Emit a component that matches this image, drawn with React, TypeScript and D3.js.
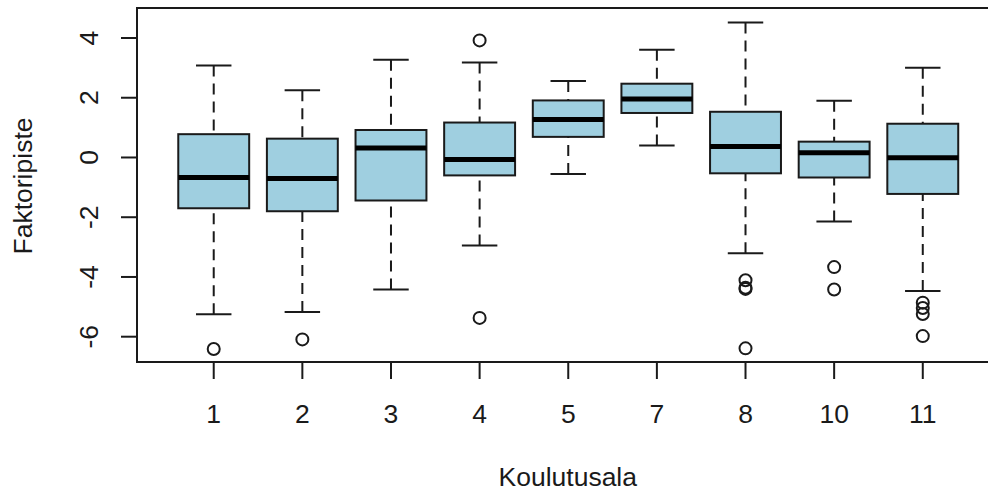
import React, { useRef, useEffect } from 'react';
import * as d3 from 'd3';

// values (R boxplot)
const categories = ['1', '2', '3', '4', '5', '7', '8', '10', '11'];
const lowerWhisker = [-5.25, -5.17, -4.42, -2.95, -0.55, 0.4, -3.21, -2.14, -4.47];
const q1 = [-1.7, -1.8, -1.44, -0.6, 0.69, 1.49, -0.53, -0.67, -1.22];
const median = [-0.67, -0.7, 0.32, -0.07, 1.27, 1.96, 0.37, 0.16, -0.01];
const q3 = [0.78, 0.63, 0.92, 1.17, 1.91, 2.47, 1.53, 0.53, 1.13];
const upperWhisker = [3.08, 2.25, 3.27, 3.18, 2.56, 3.61, 4.52, 1.9, 3.0];
const outliers = [
    [-6.41],
    [-6.09],
    [],
    [3.92, -5.37],
    [],
    [],
    [-4.11, -4.36, -4.4, -6.39],
    [-3.67, -4.42],
    [-4.86, -5.04, -5.24, -5.98],
];
const yTicks = [-6, -4, -2, 0, 2, 4];

export default function App() {
    const wrapper_ref = useRef(null);

    useEffect(() => {
        const width = 988;
        const height = 493;
        const plot = { left: 137, right: 999, top: 8, bottom: 362 };
        const font = '"Liberation Sans", Arial, sans-serif';
        const fontSize = 26.5;
        const ink = '#1a1a1a';

        const wrapper_element = d3.select(wrapper_ref.current);
        wrapper_element.selectAll('*').remove();

        const svg = wrapper_element
            .append('svg')
            .attr('width', width)
            .attr('height', height)
            .style('position', 'absolute')
            .style('left', 0)
            .style('top', 0)
            .style('background', '#fff');

        // R pads xlim c(0.5, n + 0.5) by 4% on each side
        const n = categories.length;
        const pad = n * 0.04;
        const x = d3.scaleLinear([0.5 - pad, n + 0.5 + pad], [plot.left + 0.5, plot.right]);
        const y = d3.scaleLinear([-6, 4], [336.7, 38]);

        const boxHalf = (x(1) - x(0)) * 0.4;
        const capHalf = boxHalf * 0.5;

        const data = categories.map((c, i) => ({
            c,
            pos: i + 1,
            lo: lowerWhisker[i],
            q1: q1[i],
            med: median[i],
            q3: q3[i],
            hi: upperWhisker[i],
            out: outliers[i],
        }));

        const g = svg.append('g');
        const box = g.selectAll('g.box').data(data).join('g').attr('class', 'box');

        // dashed whiskers, drawn from the staple towards the box
        ['hi', 'lo'].forEach((k) => {
            box.append('line')
                .attr('x1', (d) => x(d.pos))
                .attr('x2', (d) => x(d.pos))
                .attr('y1', (d) => y(d[k]))
                .attr('y2', (d) => y(k === 'hi' ? d.q3 : d.q1))
                .attr('stroke', ink)
                .attr('stroke-width', 2)
                .attr('stroke-dasharray', '11 7');
        });

        // staples
        ['hi', 'lo'].forEach((k) => {
            box.append('line')
                .attr('x1', (d) => x(d.pos) - capHalf)
                .attr('x2', (d) => x(d.pos) + capHalf)
                .attr('y1', (d) => y(d[k]))
                .attr('y2', (d) => y(d[k]))
                .attr('stroke', ink)
                .attr('stroke-width', 2);
        });

        box.append('rect')
            .attr('x', (d) => x(d.pos) - boxHalf)
            .attr('width', boxHalf * 2)
            .attr('y', (d) => y(d.q3))
            .attr('height', (d) => y(d.q1) - y(d.q3))
            .attr('fill', '#9fcfe0')
            .attr('stroke', ink)
            .attr('stroke-width', 2);

        box.append('line')
            .attr('x1', (d) => x(d.pos) - boxHalf)
            .attr('x2', (d) => x(d.pos) + boxHalf)
            .attr('y1', (d) => y(d.med))
            .attr('y2', (d) => y(d.med))
            .attr('stroke', '#000')
            .attr('stroke-width', 5);

        box.selectAll('circle')
            .data((d) => d.out.map((v) => ({ pos: d.pos, v })))
            .join('circle')
            .attr('cx', (d) => x(d.pos))
            .attr('cy', (d) => y(d.v))
            .attr('r', 6)
            .attr('fill', 'none')
            .attr('stroke', ink)
            .attr('stroke-width', 2);

        // frame
        svg.append('rect')
            .attr('x', plot.left)
            .attr('y', plot.top)
            .attr('width', plot.right - plot.left)
            .attr('height', plot.bottom - plot.top)
            .attr('fill', 'none')
            .attr('stroke', ink)
            .attr('stroke-width', 2);

        // x axis
        const xAxis = svg.append('g');
        xAxis.selectAll('line')
            .data(data)
            .join('line')
            .attr('x1', (d) => x(d.pos))
            .attr('x2', (d) => x(d.pos))
            .attr('y1', plot.bottom)
            .attr('y2', plot.bottom + 17)
            .attr('stroke', ink)
            .attr('stroke-width', 2);
        xAxis.selectAll('text')
            .data(data)
            .join('text')
            .attr('x', (d) => x(d.pos))
            .attr('y', 423)
            .attr('text-anchor', 'middle')
            .attr('font-family', font)
            .attr('font-size', fontSize)
            .attr('fill', ink)
            .text((d) => d.c);

        // y axis
        const yAxis = svg.append('g');
        yAxis.append('line')
            .attr('x1', plot.left)
            .attr('x2', plot.left)
            .attr('y1', y(-6))
            .attr('y2', y(4))
            .attr('stroke', ink)
            .attr('stroke-width', 2);
        yAxis.selectAll('line.tick')
            .data(yTicks)
            .join('line')
            .attr('class', 'tick')
            .attr('x1', plot.left - 16)
            .attr('x2', plot.left)
            .attr('y1', (d) => y(d))
            .attr('y2', (d) => y(d))
            .attr('stroke', ink)
            .attr('stroke-width', 2);
        yAxis.selectAll('text')
            .data(yTicks)
            .join('text')
            .attr('transform', (d) => `translate(98,${y(d)}) rotate(-90)`)
            .attr('text-anchor', 'middle')
            .attr('font-family', font)
            .attr('font-size', fontSize)
            .attr('fill', ink)
            .text((d) => d);

        svg.append('text')
            .attr('x', (x(1) + x(9)) / 2 - 0.5)
            .attr('y', 486)
            .attr('text-anchor', 'middle')
            .attr('font-family', font)
            .attr('font-size', fontSize)
            .attr('fill', ink)
            .text('Koulutusala');

        svg.append('text')
            .attr('transform', `translate(32,${(plot.top + plot.bottom) / 2 + 1}) rotate(-90)`)
            .attr('text-anchor', 'middle')
            .attr('font-family', font)
            .attr('font-size', fontSize)
            .attr('fill', ink)
            .text('Faktoripiste');
    }, []);

    return <div ref={wrapper_ref}></div>;
}
